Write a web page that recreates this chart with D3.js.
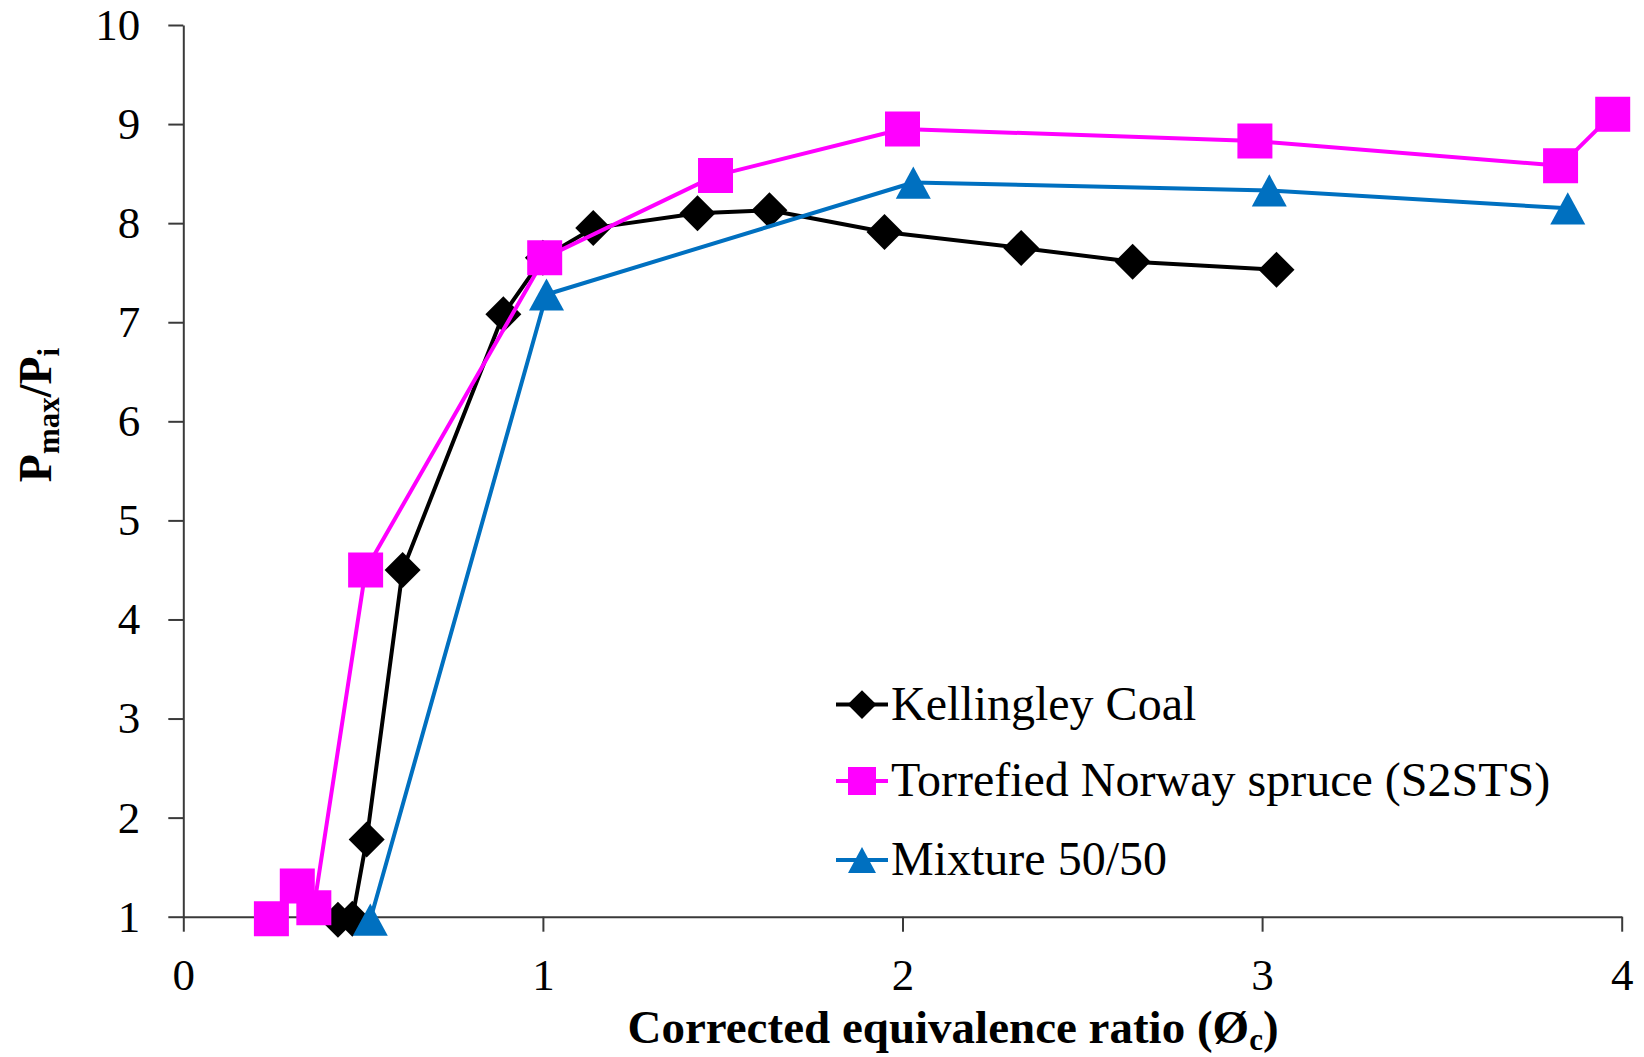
<!DOCTYPE html>
<html>
<head>
<meta charset="utf-8">
<script src="https://cdn.jsdelivr.net/npm/d3@7/dist/d3.min.js"></script>
<style>
  html, body { margin: 0; padding: 0; background: #fff; }
  svg { display: block; font-family: "Liberation Serif", "Times New Roman", serif; }
</style>
</head>
<body>
<svg id="chart" width="1644" height="1057"></svg>
<script>
// Peak explosion pressure ratio against corrected equivalence ratio
const xTicks = [0, 1, 2, 3, 4];
const yTicks = [1, 2, 3, 4, 5, 6, 7, 8, 9, 10];

const coalX = [0.43, 0.47, 0.51, 0.61, 0.89, 1.0, 1.14, 1.43, 1.63, 1.95, 2.33, 2.64, 3.04];
const coalY = [0.97, 0.98, 1.78, 4.50, 7.08, 7.65, 7.95, 8.10, 8.13, 7.91, 7.75, 7.61, 7.53];

const spruceX = [0.245, 0.317, 0.363, 0.507, 1.005, 1.48, 2.0, 2.98, 3.83, 3.975];
const spruceY = [0.98, 1.31, 1.09, 4.50, 7.65, 8.48, 8.95, 8.83, 8.58, 9.10];

const mixX = [0.52, 1.01, 2.03, 3.02, 3.85];
const mixY = [0.97, 7.28, 8.41, 8.33, 8.15];

const seriesNames = ["Kellingley Coal", "Torrefied Norway spruce (S2STS)", "Mixture 50/50"];

const svg = d3.select("#chart");
const plotLeft = 183.3, plotRight = 1621.7, plotTop = 25, plotBottom = 916.7;

const x = d3.scaleLinear().domain([0, 4]).range([plotLeft, plotRight]);
const y = d3.scaleLinear().domain([1, 10]).range([plotBottom, plotTop]);

const axisColor = "#3a3a3a";
const tickFont = 45;

// Axes
const gx = svg.append("g")
  .attr("transform", `translate(0,${plotBottom})`)
  .call(d3.axisBottom(x).tickValues(xTicks).tickFormat(d3.format("d"))
        .tickSize(15).tickSizeOuter(0).tickPadding(26));
const gy = svg.append("g")
  .attr("transform", `translate(${plotLeft},0)`)
  .call(d3.axisLeft(y).tickValues(yTicks).tickFormat(d3.format("d"))
        .tickSize(15).tickSizeOuter(0).tickPadding(28));

[gx, gy].forEach(g => {
  g.select(".domain").attr("stroke", axisColor).attr("stroke-width", 2);
  g.selectAll(".tick line").attr("stroke", axisColor).attr("stroke-width", 2);
  g.selectAll(".tick text")
    .attr("fill", "#000")
    .style("font-family", "'Liberation Serif', 'Times New Roman', serif")
    .style("font-size", tickFont + "px");
});

// Marker shapes
const marker = {
  diamond: (s) => `M0,${-s}L${s},0L0,${s}L${-s},0Z`,
  square: (s) => `M${-s},${-s}H${s}V${s}H${-s}Z`,
  triangle: (s) => `M0,${-s * 0.92}L${s},${s * 0.92}L${-s},${s * 0.92}Z`
};

const series = [
  { name: seriesNames[0], xs: coalX, ys: coalY, color: "#000000", shape: "diamond", size: 18 },
  { name: seriesNames[1], xs: spruceX, ys: spruceY, color: "#FF00FF", shape: "square", size: 17.5 },
  { name: seriesNames[2], xs: mixX, ys: mixY, color: "#0070C0", shape: "triangle", size: 17.5 }
];

const line = d3.line().x(d => x(d[0])).y(d => y(d[1]));

series.forEach(s => {
  const pts = s.xs.map((v, i) => [v, s.ys[i]]);
  const g = svg.append("g");
  g.append("path")
    .attr("d", line(pts))
    .attr("fill", "none")
    .attr("stroke", s.color)
    .attr("stroke-width", 4)
    .attr("stroke-linejoin", "round");
  g.selectAll("path.m")
    .data(pts)
    .join("path")
    .attr("class", "m")
    .attr("transform", d => `translate(${x(d[0])},${y(d[1])})`)
    .attr("d", marker[s.shape](s.size))
    .attr("fill", s.color);
});

// Legend
const legendRows = [704.6, 781, 860];
const legend = svg.append("g");
series.forEach((s, i) => {
  const ly = legendRows[i];
  legend.append("line")
    .attr("x1", 836).attr("x2", 888)
    .attr("y1", ly).attr("y2", ly)
    .attr("stroke", s.color).attr("stroke-width", 4);
  legend.append("path")
    .attr("transform", `translate(862,${ly})`)
    .attr("d", marker[s.shape](s.size * 0.8))
    .attr("fill", s.color);
  legend.append("text")
    .attr("x", 891).attr("y", ly + 15)
    .style("font-size", "48px")
    .attr("fill", "#000")
    .text(s.name);
});

// X axis title
const xt = svg.append("text")
  .attr("x", 953).attr("y", 1043)
  .attr("text-anchor", "middle")
  .style("font-size", "47px")
  .style("font-weight", "bold")
  .attr("fill", "#000");
xt.append("tspan").text("Corrected equivalence ratio (Ø");
xt.append("tspan").attr("dy", 7).style("font-size", "31px").text("c");
xt.append("tspan").attr("dy", -7).text(")");

// Y axis title
const yt = svg.append("text")
  .attr("transform", "translate(51,415) rotate(-90)")
  .attr("text-anchor", "middle")
  .style("font-size", "46px")
  .style("font-weight", "bold")
  .attr("fill", "#000");
yt.append("tspan").text("P");
yt.append("tspan").attr("dy", 8).style("font-size", "31px").text("max");
yt.append("tspan").attr("dy", -8).text("/P");
yt.append("tspan").attr("dy", 8).style("font-size", "31px").text("i");
</script>
</body>
</html>
